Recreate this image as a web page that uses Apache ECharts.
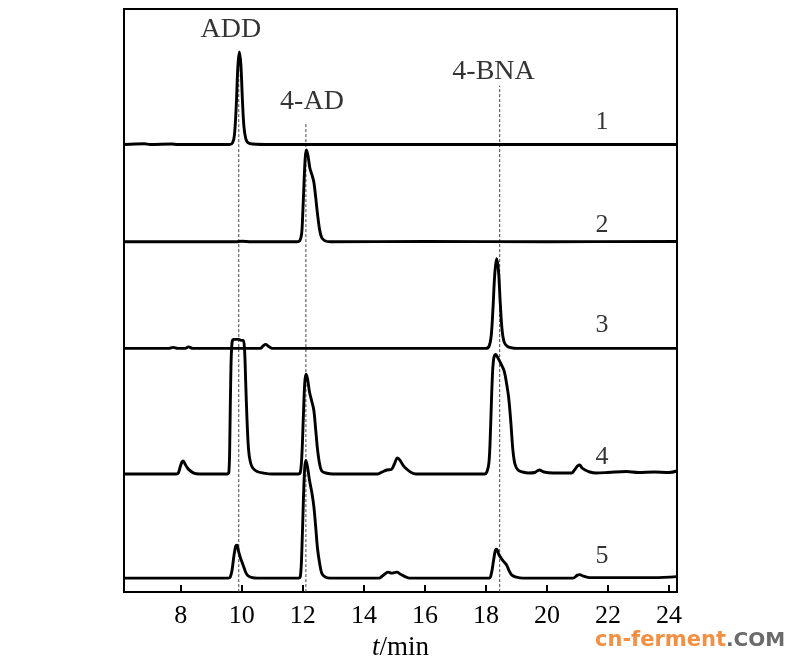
<!DOCTYPE html>
<html>
<head>
<meta charset="utf-8">
<script src="https://cdn.jsdelivr.net/npm/echarts@6/dist/echarts.min.js"></script>
<style>
  html, body { margin: 0; padding: 0; background: #fff; }
  #chart { width: 800px; height: 666px; }
</style>
</head>
<body>
<div id="chart"></div>
<script>
// ---- Data (retention time in min, detector response in arbitrary units above each trace's baseline)
const xTicks = [8, 10, 12, 14, 16, 18, 20, 22, 24];
const traceNames = ['1', '2', '3', '4', '5'];
const traceOffsets = [449, 351.5, 244.5, 118.5, 14];

const trace1T = [6.14, 6.8, 7.0, 7.7, 7.9, 9.6, 9.7, 9.76, 9.82, 9.87, 9.92, 9.97, 10.02, 10.07, 10.13, 10.2, 10.35, 11.0, 24.26];
const trace1V = [0, 0.8, 0, 0.6, 0, 0, 2, 10, 40, 78, 93, 80, 45, 18, 6, 2, 0.5, 0, 0];

const trace2T = [6.14, 9.8, 10.0, 10.3, 11.8, 11.9, 11.96, 12.0, 12.04, 12.08, 12.12, 12.17, 12.23, 12.3, 12.36, 12.42, 12.48, 12.55, 12.62, 12.72, 12.9, 16.0, 20.0, 24.26];
const trace2V = [0, 0, 0.5, 0, 0, 1, 8, 30, 60, 85, 92, 86, 74, 67, 60, 45, 28, 12, 4, 1, 0, 0.3, 0, 0.3];

const trace3T = [6.14, 7.6, 7.75, 7.9, 8.15, 8.25, 8.4, 10.6, 10.7, 10.78, 10.88, 11.0, 18.0, 18.1, 18.17, 18.23, 18.29, 18.35, 18.41, 18.47, 18.53, 18.6, 18.7, 18.85, 19.0, 24.26];
const trace3V = [0, 0, 1, 0, 0, 1.5, 0, 0, 2.5, 4, 2, 0, 0, 2, 12, 40, 75, 90, 78, 45, 18, 6, 2, 0.5, 0, 0];

const trace4T = [6.14, 7.85, 7.92, 7.98, 8.04, 8.08, 8.14, 8.22, 8.32, 8.45, 8.6,
  9.53, 9.58, 9.61, 9.64, 9.68, 9.74, 9.9, 10.0, 10.05, 10.09, 10.13, 10.17, 10.22, 10.28, 10.36, 10.5, 10.7, 11.0,
  11.85, 11.92, 11.97, 12.02, 12.06, 12.1, 12.15, 12.22, 12.3, 12.36, 12.42, 12.48, 12.55, 12.62, 12.75, 13.0,
  14.45, 14.6, 14.75, 14.9, 15.0, 15.1, 15.18, 15.28, 15.4, 15.55, 15.7,
  17.95, 18.03, 18.1, 18.15, 18.2, 18.25, 18.32, 18.4, 18.5, 18.6, 18.68, 18.75, 18.82, 18.88, 18.95, 19.05, 19.2, 19.4, 19.6, 19.75, 19.9, 20.2,
  20.8, 20.9, 21.0, 21.07, 21.15, 21.25, 21.4, 21.6, 22.0, 22.6, 23.0, 23.5, 24.0, 24.26];
const trace4V = [0, 0, 1, 7, 12, 13, 10, 6, 3, 0.5, 0,
  0, 3, 40, 100, 132, 135, 135, 134, 134, 125, 90, 55, 25, 12, 6, 2.5, 1, 0,
  0, 2, 20, 60, 90, 100, 96, 82, 72, 64, 45, 25, 10, 3, 1, 0,
  0, 2, 4, 4.5, 10, 16, 14, 9, 5, 1.5, 0,
  0, 2, 12, 45, 90, 115, 120, 116, 110, 103, 90, 75, 50, 25, 10, 4, 2, 1, 1.5, 4, 2, 1,
  1, 4, 8, 9, 6, 4, 2, 1, 1.5, 2.5, 1.5, 2, 1.5, 3];

const trace5T = [6.14, 9.55, 9.62, 9.68, 9.74, 9.8, 9.84, 9.9, 9.96, 10.02, 10.08, 10.14, 10.22, 10.35, 10.5,
  11.85, 11.92, 11.97, 12.02, 12.06, 12.1, 12.15, 12.22, 12.3, 12.36, 12.42, 12.48, 12.55, 12.62, 12.72, 12.9,
  14.5, 14.6, 14.72, 14.8, 14.9, 15.0, 15.08, 15.2, 15.35, 15.5,
  18.1, 18.18, 18.25, 18.31, 18.35, 18.42, 18.5, 18.6, 18.68, 18.75, 18.85, 19.0, 19.2,
  20.85, 21.0, 21.07, 21.2, 21.4, 23.5, 24.26];
const trace5V = [0, 0, 1, 8, 22, 32, 33, 26, 20, 15, 10, 5, 2, 0.5, 0,
  0, 2, 30, 80, 110, 118, 112, 98, 85, 72, 52, 30, 15, 5, 1.5, 0,
  0, 2, 5, 6, 5, 5.5, 6, 4, 1.5, 0,
  0, 5, 18, 28, 29, 24, 20, 16, 13, 8, 3, 1, 0,
  0, 3, 3.5, 2, 0.5, 0.5, 1.5];

const traceT = [trace1T, trace2T, trace3T, trace4T, trace5T];
const traceV = [trace1V, trace2V, trace3V, trace4V, trace5V];

// peak reference lines: retention time, top of dashed line (response units)
const peakNames = ['ADD', '4-AD', '4-BNA'];
const peakTimes = [9.9, 12.1, 18.45];
const peakLineTops = [542, 470, 508];
const peakLabelT = [9.64, 12.3, 18.25];
const peakLabelY = [564, 492, 522];

const traceLabelT = 21.8;
const traceLabelY = [471, 368, 268, 135, 36];

// ---- Chart
const chart = echarts.init(document.getElementById('chart'), null, { renderer: 'canvas' });
const serif = '"Liberation Serif", "Times New Roman", serif';

const series = [];
peakTimes.forEach((t, i) => {
  series.push({
    type: 'line', silent: true, symbol: 'none', z: 1,
    lineStyle: { color: '#444', width: 1, type: [3, 2] },
    data: [[t, 0], [t, peakLineTops[i]]]
  });
});
traceT.forEach((ts, k) => {
  series.push({
    type: 'line', name: traceNames[k], symbol: 'none', smooth: 0.35, z: 3,
    lineStyle: { color: '#000', width: 2.9 },
    data: ts.map((t, j) => [t, traceV[k][j] + traceOffsets[k]])
  });
});
series.push({
  type: 'scatter', symbolSize: 0, silent: true, z: 4,
  label: { show: true, position: 'inside', formatter: p => p.data[2], color: '#000', fontFamily: serif, fontSize: 28 },
  data: peakNames.map((n, i) => [peakLabelT[i], peakLabelY[i], n])
});
series.push({
  type: 'scatter', symbolSize: 0, silent: true, z: 4,
  label: { show: true, position: 'inside', formatter: p => p.data[2], color: '#000', fontFamily: serif, fontSize: 26 },
  data: traceNames.map((n, i) => [traceLabelT, traceLabelY[i], n])
});

chart.setOption({
  animation: false,
  backgroundColor: '#fff',
  grid: { left: 124, right: 123, top: 9, bottom: 72, show: true, borderColor: '#000', borderWidth: 2, backgroundColor: 'transparent' },
  xAxis: {
    type: 'value', min: 6.14, max: 24.26,
    name: '{i|t}/min', nameLocation: 'middle', nameGap: 38,
    nameTextStyle: { fontFamily: serif, fontSize: 27, color: '#000', rich: { i: { fontFamily: serif, fontStyle: 'italic', fontSize: 27, color: '#000' } } },
    axisLine: { show: true, lineStyle: { color: '#000', width: 2 } },
    axisTick: { show: true, inside: true, length: 7, lineStyle: { color: '#000', width: 2 }, customValues: xTicks },
    axisLabel: { show: true, margin: 11, fontFamily: serif, fontSize: 26, color: '#000', customValues: xTicks },
    splitLine: { show: false }
  },
  yAxis: { type: 'value', min: 0, max: 585, show: false },
  graphic: [{
    type: 'text', left: 595, top: 630,
    style: {
      text: '{a|cn-ferment}{b|.COM}',
      rich: {
        a: { fontFamily: '"DejaVu Sans", sans-serif', fontWeight: 'bold', fontSize: 21, fill: '#f39043' },
        b: { fontFamily: '"DejaVu Sans", sans-serif', fontWeight: 'bold', fontSize: 20, fill: '#6b6b6b' }
      }
    }
  }],
  series: series
});
</script>
</body>
</html>
